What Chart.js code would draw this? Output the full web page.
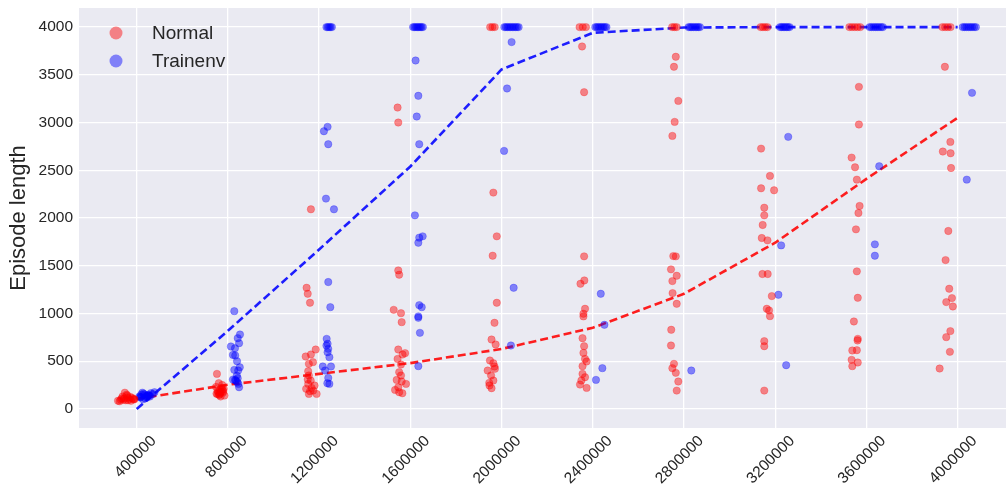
<!DOCTYPE html>
<html><head><meta charset="utf-8">
<script src="https://cdn.jsdelivr.net/npm/chart.js@4.4.1/dist/chart.umd.min.js"></script>
<style>html,body{margin:0;padding:0;background:#fff;}canvas{display:block;}</style>
</head><body>
<canvas id="c" width="1006" height="486"></canvas>
<script>
// ---- data ----
const steps = [400000, 800000, 1200000, 1600000, 2000000, 2400000, 2800000, 3200000, 3600000, 4000000];
const normalLine   = [105, 253, 367, 480, 628, 850, 1206, 1741, 2410, 3050];
const trainenvLine = [0, 818, 1670, 2540, 3556, 3940, 3995, 4000, 4000, 4000];

// jittered x positions (in thousands of steps) and episode lengths
const normalXk = [
  330,345,360,375,385,338,352,368,348,380,325,358,390,342,372,334,362,388,356,318,
  752,760,775,748,782,765,756,770,778,750,762,785,768,758,772,780,754,766,776,762,
  1164,1145,1150,1160,1141,1164,1185,1155,1173,1152,1155,1150,1163,1180,1143,1160,1189,1167,1155,1174,1152,
  1544,1547,1547,1551,1527,1559,1562,1547,1577,1566,1544,1559,1551,1559,1540,1562,1581,1533,1551,1565,1547,
  1964,1979,1961,1979,1969,1956,1974,1949,1964,1971,1939,1954,1964,1946,1956,1947,1969,1950,1960,1970,
  2353,2362,2362,2363,2346,2366,2359,2359,2355,2362,2359,2366,2373,2355,2355,2366,2344,2373,2350,2342,2356,2370,
  2764,2756,2775,2759,2749,2753,2764,2743,2768,2749,2750,2768,2744,2743,2756,2749,2764,2775,2768,2748,2758,2768,
  3138,3177,3138,3195,3152,3152,3145,3141,3166,3144,3167,3185,3163,3173,3177,3152,3152,3152,3136,3146,3156,3166,
  3567,3567,3535,3550,3558,3570,3565,3554,3558,3562,3545,3562,3561,3538,3558,3535,3562,3538,3525,3537,3549,3561,3573,
  3944,3968,3935,3969,3971,3959,3947,3963,3975,3950,3979,3968,3950,3966,3921,3933,3945,3957,3969
];
const normalY = [
  95,110,120,85,100,130,90,105,170,115,80,140,100,95,125,110,90,105,150,85,
  367,270,250,230,210,200,190,180,170,160,150,140,130,175,220,185,155,165,200,145,
  2091,1269,1206,1112,549,570,622,472,490,395,350,308,297,245,210,185,157,220,157,192,262,
  3157,3000,1451,1406,1038,1003,909,622,584,570,524,465,385,350,304,287,262,199,175,164,227,
  2266,1808,1605,1112,902,727,675,507,479,420,402,350,297,273,217,245,444,4000,4000,4000,
  3797,3318,1598,1346,1311,1049,969,997,741,657,587,524,497,448,367,332,255,220,297,4000,4000,4000,
  3689,3584,3227,3007,2860,1601,1598,1462,1395,1339,1213,1101,829,664,472,427,378,287,192,4000,4000,4000,
  2727,2441,2311,2290,2108,2028,1927,1790,1766,1413,1413,1182,1049,1031,972,710,657,192,4000,4000,4000,4000,
  3374,2979,2633,2531,2402,2126,2052,1881,1441,1164,916,734,717,612,615,514,486,448,4000,4000,4000,4000,4000,
  3584,2797,2696,2678,2524,1864,1559,1259,1161,1119,1073,815,752,598,423,4000,4000,4000,4000
];
const trainenvXk = [
  412,420,430,445,455,425,438,450,470,418,442,462,428,435,448,478,415,458,
  828,813,843,853,831,849,832,822,840,852,828,845,839,831,843,841,849,835,822,846,
  1237,1221,1240,1230,1265,1240,1249,1233,1237,1232,1240,1237,1245,1216,1252,1226,1240,1245,1236,1232,1238,1244,1250,1256,
  1623,1635,1628,1639,1620,1639,1654,1635,1639,1650,1635,1635,1642,1635,1612,1618,1625,1631,1637,1643,1649,1655,
  2044,2024,2011,2053,2041,2012,2019,2026,2033,2040,2047,2054,2061,2068,2075,
  2435,2451,2442,2414,2411,2418,2425,2432,2439,2446,2453,2460,
  2832,2820,2827,2834,2841,2849,2856,2863,2870,
  3257,3226,3214,3248,3221,3228,3235,3242,3249,3256,3263,
  3656,3637,3637,3614,3622,3631,3639,3647,3655,3664,3672,
  4063,4040,4022,4030,4038,4047,4055,4063,4072,4080
];
const trainenvY = [
  130,150,160,120,140,170,110,145,155,125,135,165,100,150,140,175,120,130,
  1024,654,741,779,636,688,559,566,499,436,409,402,349,304,321,279,227,297,307,262,
  2955,2909,2773,2203,2091,1329,1066,734,682,664,629,594,542,444,444,402,325,262,269,4000,4000,4000,4000,4000,
  3650,3280,3063,2773,2028,1794,1808,1741,1087,1066,969,955,797,448,4000,4000,4000,4000,4000,4000,4000,4000,
  3843,3357,2703,1269,664,4000,4000,4000,4000,4000,4000,4000,4000,4000,4000,
  1206,881,427,304,4000,4000,4000,4000,4000,4000,4000,4000,
  402,4000,4000,4000,4000,4000,4000,4000,4000,
  2850,1713,1196,458,4000,4000,4000,4000,4000,4000,4000,
  2542,1724,1605,4000,4000,4000,4000,4000,4000,4000,4000,
  3311,2402,4000,4000,4000,4000,4000,4000,4000,4000
];
const yTicks = [0, 500, 1000, 1500, 2000, 2500, 3000, 3500, 4000];
const seriesNames = ['Normal', 'Trainenv'];

// ---- build ----
const pts = (xs, ys) => xs.map((v, i) => ({x: v * 1000, y: ys[i]}));
const linePts = (ys) => steps.map((s, i) => ({x: s, y: ys[i]}));
const FONT = "'Liberation Sans', Arial, 'DejaVu Sans', sans-serif";
Chart.defaults.font.family = FONT;
Chart.defaults.color = '#262626';

const bgPlugin = {
  id: 'bg',
  beforeDraw(chart) {
    const {ctx, chartArea: a} = chart;
    ctx.save(); ctx.fillStyle = '#eaeaf2';
    ctx.fillRect(a.left, a.top, a.right - a.left, a.bottom - a.top);
    ctx.restore();
  }
};
const legendPlugin = {
  id: 'innerLegend',
  afterDraw(chart) {
    const {ctx, chartArea: a} = chart;
    const items = chart.data.datasets.filter(d => d.inLegend);
    ctx.save();
    items.forEach((d, i) => {
      const cx = a.left + 37, cy = a.top + 25 + i * 28;
      ctx.beginPath(); ctx.arc(cx, cy, 6.5, 0, Math.PI * 2);
      ctx.fillStyle = d.backgroundColor; ctx.fill();
      ctx.fillStyle = '#262626'; ctx.font = '19px ' + FONT;
      ctx.textBaseline = 'middle'; ctx.textAlign = 'left';
      ctx.fillText(d.label, cx + 36, cy + 1);
    });
    ctx.restore();
  }
};

new Chart(document.getElementById('c'), {
  type: 'scatter',
  data: {
    datasets: [
      {label: seriesNames[0], inLegend: true, data: pts(normalXk, normalY),
       backgroundColor: 'rgba(255,0,0,0.45)', borderColor: 'rgba(255,0,0,0.3)', borderWidth: 0.8,
       pointRadius: 3.7, hoverRadius: 0},
      {label: seriesNames[1], inLegend: true, data: pts(trainenvXk, trainenvY),
       backgroundColor: 'rgba(0,0,255,0.45)', borderColor: 'rgba(0,0,255,0.3)', borderWidth: 0.8,
       pointRadius: 3.7, hoverRadius: 0},
      {label: 'normal-line', data: linePts(normalLine), showLine: true, pointRadius: 0, hoverRadius: 0,
       borderColor: 'rgba(255,0,0,0.88)', borderWidth: 2.6, borderDash: [8, 4], fill: false},
      {label: 'trainenv-line', data: linePts(trainenvLine), showLine: true, pointRadius: 0, hoverRadius: 0,
       borderColor: 'rgba(0,0,255,0.88)', borderWidth: 2.6, borderDash: [8, 4], fill: false}
    ]
  },
  options: {
    responsive: false, animation: false, devicePixelRatio: 1,
    layout: {autoPadding: false, padding: {top: 8, left: 0, right: 0, bottom: 0}},
    plugins: {legend: {display: false}, tooltip: {enabled: false}},
    scales: {
      x: {
        type: 'linear', min: 147000, max: 4212000,
        border: {display: false},
        grid: {color: '#ffffff', lineWidth: 1.3, drawTicks: false},
        afterBuildTicks: s => { s.ticks = steps.map(v => ({value: v})); },
        ticks: {autoSkip: false,
                maxRotation: 45, minRotation: 45, padding: 4, labelOffset: 17,
                font: {size: 15.5}, color: '#262626',
                callback: v => String(v)},
        afterFit: s => { s.height = 58; s.paddingLeft = 0; s.paddingRight = 0; }
      },
      y: {
        type: 'linear', min: -200, max: 4200,
        border: {display: false},
        grid: {color: '#ffffff', lineWidth: 1.3, drawTicks: false},
        afterBuildTicks: s => { s.ticks = yTicks.map(v => ({value: v})); },
        ticks: {padding: 6, font: {size: 15.5}, color: '#262626',
                callback: v => String(v)},
        title: {display: true, text: 'Episode length', font: {size: 22}, color: '#262626', padding: {top: 6, bottom: 0}},
        afterFit: s => { s.width = 79; s.paddingTop = 0; s.paddingBottom = 0; }
      }
    }
  },
  plugins: [bgPlugin, legendPlugin]
});
</script>
</body></html>
